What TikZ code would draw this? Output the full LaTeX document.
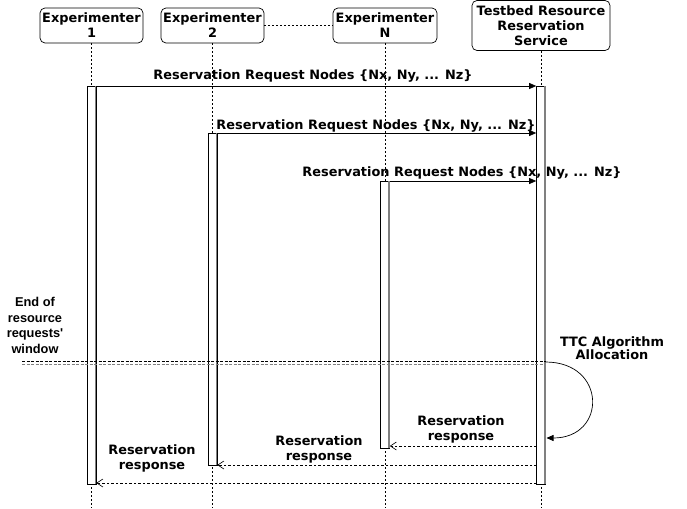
\documentclass[tikz,border=0pt]{standalone}
\usepackage{fontspec}
\setmainfont{DejaVu Sans}
\newfontfamily\helv{Liberation Sans}
\usetikzlibrary{arrows.meta,calc}
\begin{document}
\begin{tikzpicture}[x=1pt,y=-1pt,
  actor/.style={draw,rounded corners=5pt,line width=0.7pt,align=center,font=\bfseries\fontsize{12.9}{15}\selectfont,inner sep=0pt},
  bar/.style={draw,fill=white,line width=0.7pt,minimum width=9pt,inner sep=0pt,anchor=north},
  life/.style={dash pattern=on 2pt off 2pt,line width=0.6pt},
  msg/.style={line width=0.7pt,-{Triangle[length=7pt,width=6pt]}},
  resp/.style={dash pattern=on 2.5pt off 2pt,line width=0.6pt,-{Straight Barb[length=6pt,width=8pt]}},
  lbl/.style={font=\bfseries\fontsize{12.9}{15}\selectfont,align=center,inner sep=1pt},
  shade/.style={draw=gray,line width=1.6pt}]
\useasboundingbox (0,0) rectangle (687,508);
% actors
\node[actor,minimum width=103pt,minimum height=35pt] (e1) at (91.5,25.5) {Experimenter\\1};
\node[actor,minimum width=103pt,minimum height=35pt] (e2) at (212.5,25.5) {Experimenter\\2};
\node[actor,minimum width=104pt,minimum height=35pt] (eN) at (385,25.5) {Experimenter\\N};
\node[actor,minimum width=138pt,minimum height=50pt] (tb) at (541,25.5) {Testbed Resource\\Reservation\\Service};
\draw[dash pattern=on 2pt off 2pt,line width=0.6pt] (e2.east) -- (eN.west);
% lifelines
\draw[life] (e1.south) -- (91.5,508);
\draw[life] (e2.south) -- (212.5,508);
\draw[life] (eN.south) -- (385,508);
\draw[life] (tb.south) -- (541,508);
% activation bars
\node[bar,minimum height=398pt] (b1) at (91.5,86) {};
\node[bar,minimum height=332pt] (b2) at (212.5,133) {};
\node[bar,minimum height=267pt] (bN) at (385,181) {};
\node[bar,minimum height=398pt] (bT) at (541,86) {};
\foreach \b in {b1,b2,bN,bT}{
  \draw[shade] ($(\b.north east)+(-0.8,0.4)$) -- ($(\b.south east)+(-0.8,-0.4)$);
}
% requests
\draw[msg] (b1.north east) -- (bT.north west);
\node[lbl] (l1) at (313,76) {Reservation Request Nodes \{Nx, Ny, ... Nz\}};
\draw[msg] (b2.north east) -- (b2.north east -| bT.west);
\node[lbl] (l2) at (376,126) {Reservation Request Nodes \{Nx, Ny, ... Nz\}};
\draw[msg] (bN.north east) -- (bN.north east -| bT.west);
\node[lbl] (l3) at (462,173) {Reservation Request Nodes \{Nx, Ny, ... Nz\}};
% end of window
\node[font=\helv\bfseries\fontsize{12.8}{15.7}\selectfont,align=center,inner sep=0pt] (eow) at (35,325.5) {End of\\resource\\requests'\\window};
\coordinate (w0) at (22,361.5);
\coordinate (w1) at (22,364.5);
\draw[dash pattern=on 3pt off 1.5pt,line width=0.6pt] (w0) -- (w0 -| bT.east);
\draw[dash pattern=on 3pt off 1.5pt,line width=0.6pt,gray] (w1) -- (w1 -| bT.east);
% self loop
\node[lbl,font=\bfseries\fontsize{12.9}{13.5}\selectfont] (ttc) at (612,348) {TTC Algorithm\\Allocation};
\coordinate (s0) at (545.5,362);
\coordinate (s1) at (546.5,438);
\draw[line width=0.7pt,-{Triangle[length=7pt,width=6pt]}] (s0) .. controls (607,362) and (607,438) .. (s1);
% responses
\coordinate (r1) at (536.5,446);
\draw[resp] (r1) -- (r1 -| bN.east);
\node[lbl] (rl1) at (461,429.5) {Reservation\\response};
\coordinate (r2) at (536.5,465);
\draw[resp] (r2) -- (r2 -| b2.east);
\node[lbl] (rl2) at (319,449.5) {Reservation\\response};
\coordinate (r3) at (536.5,483);
\draw[resp] (r3) -- (r3 -| b1.east);
\node[lbl] (rl3) at (152,458.5) {Reservation\\response};
\end{tikzpicture}
\end{document}
